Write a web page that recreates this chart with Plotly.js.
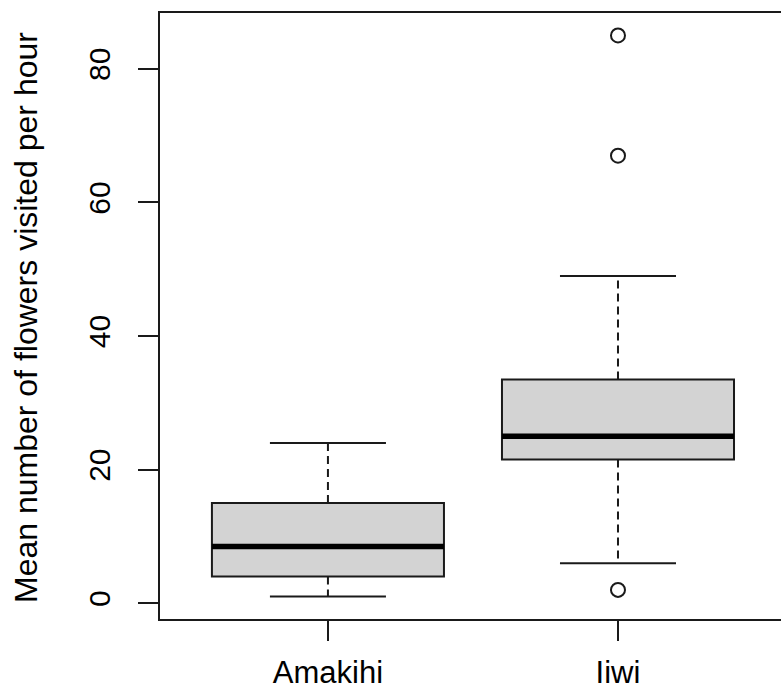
<!DOCTYPE html>
<html>
<head>
<meta charset="utf-8">
<script src="https://cdn.plot.ly/plotly-3.0.1.min.js"></script>
<style>html,body{margin:0;padding:0;background:#fff;}#chart{width:781px;height:691px;}</style>
</head>
<body>
<div id="chart"></div>
<script>
// ---- data ----
var categories = ["Amakihi", "Iiwi"];
var lowerWhisker = [1, 6];
var q1 = [4, 21.5];
var median = [8.5, 25];
var q3 = [15, 33.5];
var upperWhisker = [24, 49];
var outlierGroup = ["Iiwi", "Iiwi", "Iiwi"];
var outlierValues = [85, 67, 2];
var yTicks = [0, 20, 40, 60, 80];

// ---- build traces ----
var pos = categories.map(function (c, i) { return i + 1; });
var lineCol = "#1a1a1a";
var boxHalf = 0.4, capHalf = 0.2;

var boxTrace = {
  type: "box", x: pos, q1: q1, median: median, q3: q3,
  lowerfence: q1, upperfence: q3, width: 2 * boxHalf,
  fillcolor: "#d3d3d3", line: { color: lineCol, width: 2 },
  whiskerwidth: 0, boxpoints: false, hoverinfo: "skip", showlegend: false
};

var wx = [], wy = [], cx = [], cy = [], mx = [], my = [];
pos.forEach(function (p, i) {
  wx.push(p, p, null, p, p, null);
  wy.push(q3[i], upperWhisker[i], null, q1[i], lowerWhisker[i], null);
  cx.push(p - capHalf, p + capHalf, null, p - capHalf, p + capHalf, null);
  cy.push(upperWhisker[i], upperWhisker[i], null, lowerWhisker[i], lowerWhisker[i], null);
  mx.push(p - boxHalf, p + boxHalf, null);
  my.push(median[i], median[i], null);
});

var whiskers = { type: "scatter", mode: "lines", x: wx, y: wy,
  line: { color: lineCol, width: 2, dash: "8px,5px" }, hoverinfo: "skip", showlegend: false };
var caps = { type: "scatter", mode: "lines", x: cx, y: cy,
  line: { color: lineCol, width: 2 }, hoverinfo: "skip", showlegend: false };
var medians = { type: "scatter", mode: "lines", x: mx, y: my,
  line: { color: "#000", width: 5.5 }, hoverinfo: "skip", showlegend: false };
var outliers = { type: "scatter", mode: "markers",
  x: outlierGroup.map(function (g) { return categories.indexOf(g) + 1; }),
  y: outlierValues,
  marker: { symbol: "circle-open", size: 14, color: lineCol, line: { width: 2, color: lineCol } },
  hoverinfo: "skip", showlegend: false };

var font = "Liberation Sans, Arial, sans-serif";

var layout = {
  width: 781, height: 691,
  margin: { l: 160, r: 0, t: 13, b: 72, pad: 0 },
  paper_bgcolor: "#fff", plot_bgcolor: "#fff",
  showlegend: false,
  xaxis: {
    range: [0.421, 2.562], tickmode: "array", tickvals: pos, ticktext: categories,
    ticks: "outside", ticklen: 20, tickwidth: 2, tickcolor: lineCol,
    showline: true, mirror: true, linewidth: 2, linecolor: lineCol,
    showgrid: false, zeroline: false, ticklabelstandoff: 5,
    tickfont: { family: font, size: 31, color: "#000" }
  },
  yaxis: {
    range: [-2.36, 88.36], tickmode: "array", tickvals: yTicks,
    ticks: "outside", ticklen: 20, tickwidth: 2, tickcolor: lineCol,
    showline: true, mirror: false, linewidth: 2, linecolor: lineCol,
    showgrid: false, zeroline: false, tickangle: -90, ticklabelstandoff: 16,
    tickfont: { family: font, size: 30, color: "#000" }
  },
  annotations: [{
    text: "Mean number of flowers visited per hour",
    xref: "paper", yref: "paper", x: -0.2166, y: 0.4975,
    xanchor: "center", yanchor: "middle", textangle: -90, showarrow: false,
    font: { family: font, size: 32, color: "#000" }
  }]
};

Plotly.newPlot("chart", [boxTrace, whiskers, caps, medians, outliers], layout, { staticPlot: true, displayModeBar: false });
</script>
</body>
</html>
